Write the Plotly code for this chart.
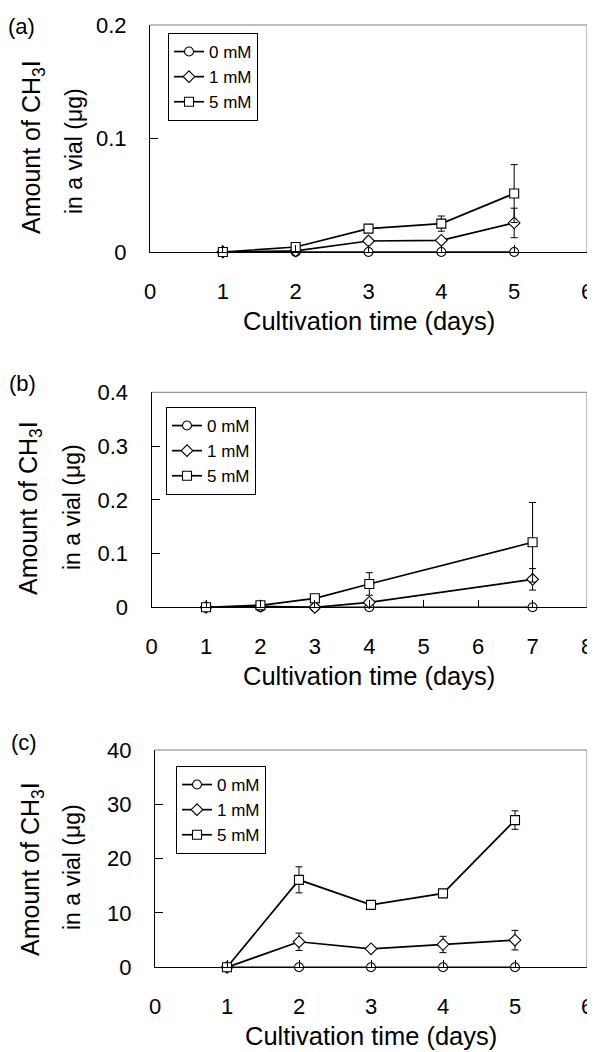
import plotly.graph_objects as go

# ---------------- data ----------------
series_names = ["0 mM", "1 mM", "5 mM"]

# panel (a)
a_days = [1, 2, 3, 4, 5]
a_0mM = [0, 0, 0, 0, 0]
a_1mM = [0, 0.001, 0.0097, 0.0103, 0.0256]
a_5mM = [0, 0.0044, 0.0206, 0.025, 0.0515]
a_0mM_err = [0, 0, 0, 0, 0]
a_1mM_err = [0, 0, 0.001, 0.001, 0.013]
a_5mM_err = [0, 0.001, 0.001, 0.0067, 0.0255]
a_yticks = [0, 0.1, 0.2]
a_yticktext = ["0", "0.1", "0.2"]
a_xticks = [0, 1, 2, 3, 4, 5, 6]

# panel (b)
b_days = [1, 2, 3, 4, 7]
b_0mM = [0, 0, 0, 0, 0]
b_1mM = [0, 0.002, 0.0, 0.0093, 0.052]
b_5mM = [0, 0.0037, 0.0167, 0.0434, 0.121]
b_0mM_err = [0, 0, 0, 0, 0]
b_1mM_err = [0, 0, 0, 0.003, 0.02]
b_5mM_err = [0, 0.001, 0.002, 0.021, 0.074]
b_yticks = [0, 0.1, 0.2, 0.3, 0.4]
b_yticktext = ["0", "0.1", "0.2", "0.3", "0.4"]
b_xticks = [0, 1, 2, 3, 4, 5, 6, 7, 8]

# panel (c)
c_days = [1, 2, 3, 4, 5]
c_0mM = [0, 0, 0, 0, 0]
c_1mM = [0, 4.7, 3.4, 4.2, 5.0]
c_5mM = [0, 16.1, 11.5, 13.6, 27.1]
c_0mM_err = [0, 0, 0, 0, 0]
c_1mM_err = [0, 1.6, 0.3, 1.5, 1.8]
c_5mM_err = [0, 2.4, 0.3, 0.3, 1.7]
c_yticks = [0, 10, 20, 30, 40]
c_yticktext = ["0", "10", "20", "30", "40"]
c_xticks = [0, 1, 2, 3, 4, 5, 6]

panel_labels = ["(a)", "(b)", "(c)"]
xtitle = "Cultivation time (days)"
ytitle1 = "Amount of CH<sub>3</sub>I"
ytitle2 = "in a vial (μg)"

# ---------------- layout geometry (pixels of the page) ----------------
OFF = 8  # page body margin
W, H = 595 - OFF, 1052 - OFF
FONT = "Liberation Sans, Arial, sans-serif"


def fx(px):
    return (px - OFF) / W


def fy(py):
    return 1 - (py - OFF) / H


panels = [
    dict(days=a_days, ys=[a_0mM, a_1mM, a_5mM], errs=[a_0mM_err, a_1mM_err, a_5mM_err],
         yticks=a_yticks, ytext=a_yticktext, xticks=a_xticks, xr=[0, 6], yr=[0, 0.2],
         box=(150, 587, 25, 252), legend=(168, 33), ylab=((33, 147), (74, 151)), plab=(21, 26)),
    dict(days=b_days, ys=[b_0mM, b_1mM, b_5mM], errs=[b_0mM_err, b_1mM_err, b_5mM_err],
         yticks=b_yticks, ytext=b_yticktext, xticks=b_xticks, xr=[0, 8], yr=[0, 0.4],
         box=(151.6, 587, 392.3, 607.3), legend=(166, 407), ylab=((30, 508), (72, 507)), plab=(22, 384)),
    dict(days=c_days, ys=[c_0mM, c_1mM, c_5mM], errs=[c_0mM_err, c_1mM_err, c_5mM_err],
         yticks=c_yticks, ytext=c_yticktext, xticks=c_xticks, xr=[0, 6], yr=[0, 40],
         box=(155, 587, 750, 967.3), legend=(176, 766), ylab=((32, 869), (72, 867)), plab=(24, 742)),
]

symbols = ["circle", "diamond", "square"]

fig = go.Figure()
annotations = []
shapes = []
layout_upd = {}

for i, p in enumerate(panels):
    n = "" if i == 0 else str(i + 1)
    xa, ya = "x" + n, "y" + n
    leg = "legend" + n
    for s in range(3):
        fig.add_trace(go.Scatter(
            x=p["days"], y=p["ys"][s], name=series_names[s],
            xaxis=xa, yaxis=ya, legend=leg,
            mode="lines+markers", cliponaxis=False,
            line=dict(color="black", width=1.7),
            marker=dict(symbol=symbols[s], size=9, color="white",
                        line=dict(color="black", width=1.1)),
            error_y=dict(type="data", array=p["errs"][s], visible=True,
                         color="black", thickness=1, width=3.5),
        ))
    x0, x1, y0, y1 = p["box"]
    layout_upd["xaxis" + n] = dict(
        domain=[fx(x0), fx(x1)], range=p["xr"], anchor=ya,
        tickvals=p["xticks"], ticks="inside", ticklen=7, tickcolor="black",
        showline=True, linecolor="black", linewidth=1.2, showgrid=False, zeroline=False,
        tickfont=dict(family=FONT, size=22, color="black"), ticklabelstandoff=19,
        automargin=False,
    )
    layout_upd["yaxis" + n] = dict(
        domain=[fy(y1), fy(y0)], range=p["yr"], anchor=xa,
        tickvals=p["yticks"], ticktext=p["ytext"], ticks="inside", ticklen=8, tickcolor="black",
        showline=True, linecolor="black", linewidth=1.2, showgrid=False, zeroline=False,
        tickfont=dict(family=FONT, size=22, color="black"), ticklabelstandoff=18,
        automargin=False,
    )
    lx, ly = p["legend"]
    layout_upd[leg] = dict(
        x=fx(lx), y=fy(ly), xanchor="left", yanchor="top",
        bordercolor="black", borderwidth=1, bgcolor="white",
        font=dict(family=FONT, size=17, color="black"), itemwidth=30,
        tracegroupgap=0,
    )
    # top/right frame in grey
    shapes.append(dict(type="line", xref=xa + " domain", yref=ya + " domain",
                       x0=0, x1=1, y0=1, y1=1, line=dict(color="#7f7f7f", width=1)))
    shapes.append(dict(type="line", xref=xa + " domain", yref=ya + " domain",
                       x0=1, x1=1, y0=0, y1=1, line=dict(color="#7f7f7f", width=1)))
    # titles
    (t1x, t1y), (t2x, t2y) = p["ylab"]
    annotations.append(dict(text=ytitle1, x=fx(t1x), y=fy(t1y), xref="paper", yref="paper",
                            textangle=-90, showarrow=False, xanchor="center", yanchor="middle",
                            font=dict(family=FONT, size=25, color="black")))
    annotations.append(dict(text=ytitle2, x=fx(t2x), y=fy(t2y), xref="paper", yref="paper",
                            textangle=-90, showarrow=False, xanchor="center", yanchor="middle",
                            font=dict(family=FONT, size=23, color="black")))
    annotations.append(dict(text=xtitle, x=fx((x0 + x1) / 2), y=fy(y1 + 69),
                            xref="paper", yref="paper", showarrow=False,
                            xanchor="center", yanchor="middle",
                            font=dict(family=FONT, size=25.5, color="black")))
    px_, py_ = p["plab"]
    annotations.append(dict(text=panel_labels[i], x=fx(px_), y=fy(py_), xref="paper", yref="paper",
                            showarrow=False, xanchor="center", yanchor="middle",
                            font=dict(family=FONT, size=22, color="black")))

fig.update_layout(
    width=W, height=H, margin=dict(l=0, r=0, t=0, b=0),
    paper_bgcolor="white", plot_bgcolor="white", template="none",
    annotations=annotations, shapes=shapes, showlegend=True,
    **layout_upd,
)

fig.write_html("out.html")
